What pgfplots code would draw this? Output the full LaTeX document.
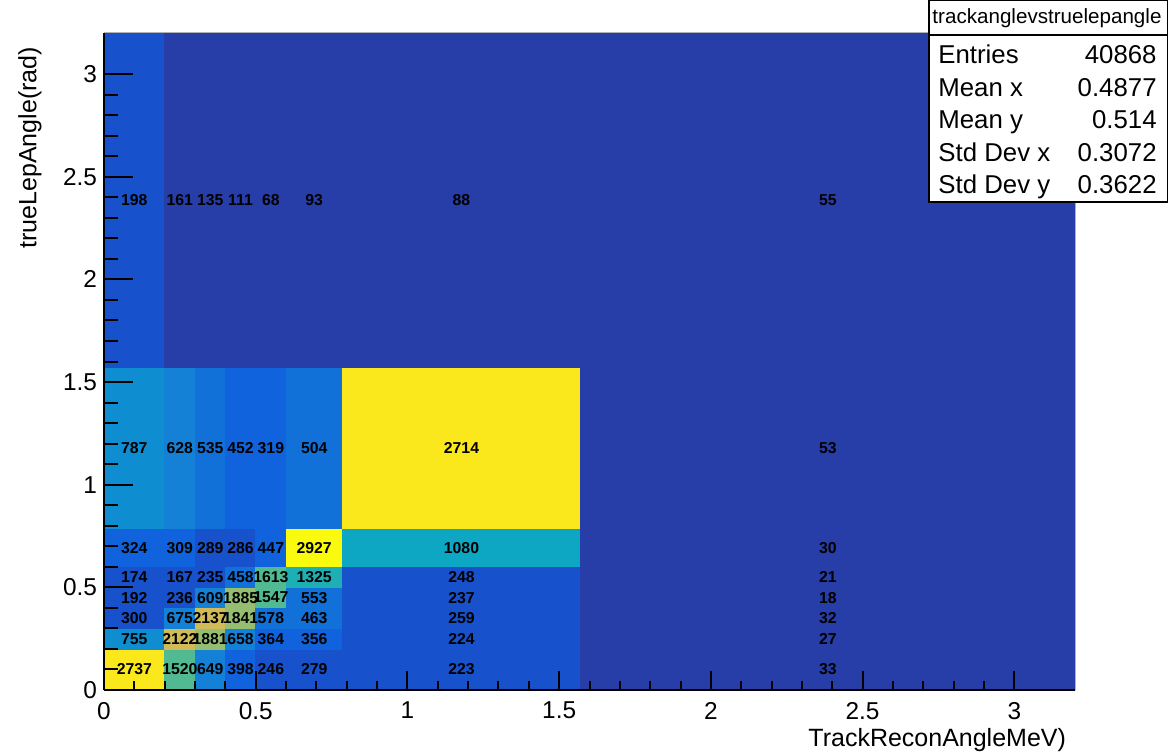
\documentclass[border=0pt]{standalone}
\usepackage{fontspec}
\setmainfont{Liberation Sans}
\usepackage{pgfplots}
\pgfplotsset{compat=1.18}
\pgfplotsset{
  colormap={kbird}{rgb=(0.2082,0.1664,0.5293) rgb=(0.0592,0.3599,0.8684) rgb=(0.0780,0.5041,0.8385)
    rgb=(0.0232,0.6419,0.7914) rgb=(0.1802,0.7178,0.6425) rgb=(0.5301,0.7492,0.4662)
    rgb=(0.8186,0.7328,0.3499) rgb=(0.9956,0.7862,0.1968) rgb=(0.9764,0.9832,0.0539)},
}
% bin contents at lower-left bin edges (last row/column only close the grid)
\pgfplotstableread{
x y c
0 0 2737
0.2 0 1520
0.3 0 649
0.4 0 398
0.5 0 246
0.6 0 279
0.7854 0 223
1.5708 0 33
3.2 0 33
0 0.2 755
0.2 0.2 2122
0.3 0.2 1881
0.4 0.2 658
0.5 0.2 364
0.6 0.2 356
0.7854 0.2 224
1.5708 0.2 27
3.2 0.2 27
0 0.3 300
0.2 0.3 675
0.3 0.3 2137
0.4 0.3 1841
0.5 0.3 578
0.6 0.3 463
0.7854 0.3 259
1.5708 0.3 32
3.2 0.3 32
0 0.4 192
0.2 0.4 236
0.3 0.4 609
0.4 0.4 1885
0.5 0.4 1547
0.6 0.4 553
0.7854 0.4 237
1.5708 0.4 18
3.2 0.4 18
0 0.5 174
0.2 0.5 167
0.3 0.5 235
0.4 0.5 458
0.5 0.5 1613
0.6 0.5 1325
0.7854 0.5 248
1.5708 0.5 21
3.2 0.5 21
0 0.6 324
0.2 0.6 309
0.3 0.6 289
0.4 0.6 286
0.5 0.6 447
0.6 0.6 2927
0.7854 0.6 1080
1.5708 0.6 30
3.2 0.6 30
0 0.7854 787
0.2 0.7854 628
0.3 0.7854 535
0.4 0.7854 452
0.5 0.7854 319
0.6 0.7854 504
0.7854 0.7854 2714
1.5708 0.7854 53
3.2 0.7854 53
0 1.5708 198
0.2 1.5708 161
0.3 1.5708 135
0.4 1.5708 111
0.5 1.5708 68
0.6 1.5708 93
0.7854 1.5708 88
1.5708 1.5708 55
3.2 1.5708 55
0 3.2 198
0.2 3.2 161
0.3 3.2 135
0.4 3.2 111
0.5 3.2 68
0.6 3.2 93
0.7854 3.2 88
1.5708 3.2 55
3.2 3.2 55
}\bins
% bin centres and their contents
\pgfplotstableread{
x y n
0.1 0.1 2737
0.25 0.1 1520
0.35 0.1 649
0.45 0.1 398
0.55 0.1 246
0.6927 0.1 279
1.1781 0.1 223
2.3854 0.1 33
0.1 0.25 755
0.25 0.25 2122
0.35 0.25 1881
0.45 0.25 658
0.55 0.25 364
0.6927 0.25 356
1.1781 0.25 224
2.3854 0.25 27
0.1 0.35 300
0.25 0.35 675
0.35 0.35 2137
0.45 0.35 1841
0.55 0.35 578
0.6927 0.35 463
1.1781 0.35 259
2.3854 0.35 32
0.1 0.45 192
0.25 0.45 236
0.35 0.45 609
0.45 0.45 1885
0.55 0.45 1547
0.6927 0.45 553
1.1781 0.45 237
2.3854 0.45 18
0.1 0.55 174
0.25 0.55 167
0.35 0.55 235
0.45 0.55 458
0.55 0.55 1613
0.6927 0.55 1325
1.1781 0.55 248
2.3854 0.55 21
0.1 0.6927 324
0.25 0.6927 309
0.35 0.6927 289
0.45 0.6927 286
0.55 0.6927 447
0.6927 0.6927 2927
1.1781 0.6927 1080
2.3854 0.6927 30
0.1 1.1781 787
0.25 1.1781 628
0.35 1.1781 535
0.45 1.1781 452
0.55 1.1781 319
0.6927 1.1781 504
1.1781 1.1781 2714
2.3854 1.1781 53
0.1 2.3854 198
0.25 2.3854 161
0.35 2.3854 135
0.45 2.3854 111
0.55 2.3854 68
0.6927 2.3854 93
1.1781 2.3854 88
2.3854 2.3854 55
}\centres
\begin{document}
\begin{tikzpicture}
\begin{axis}[
  at={(0pt,0pt)}, anchor=south west,
  scale only axis, width=485.5pt, height=328.5pt,
  xmin=0, xmax=3.2, ymin=0, ymax=3.2,
  axis x line*=bottom, axis y line*=left,
  axis line style={line width=1pt,-},
  colormap name=kbird,
  point meta min=0, point meta max=254,
  tick align=inside,
  xtick=\empty,
  ytick={0,0.5,...,3},
  minor y tick num=4,
  major tick length=14.5pt, minor tick length=7pt,
  tick style={black, line width=1pt},
  /pgf/number format/assume math mode=true,
  ticklabel style={font=\fontsize{12.2}{14}\selectfont},
  axis on top,
]
\addplot[surf, shader=flat corner, mesh/cols=9,
  point meta={min(254,floor((floor(0.01+(\thisrow{c}-18)*20/2909)+0.99)*12.75))}]
  table[x=x,y=y] {\bins};
\addplot[draw=none, mark=none, nodes near coords, point meta=explicit symbolic,
  nodes near coords style={font=\bfseries\fontsize{7.9}{9}\selectfont, anchor=center, text=black, inner sep=0pt}]
  table[x=x,y=y,meta=n] {\centres};
\end{axis}
\begin{axis}[
  at={(0pt,0pt)}, anchor=south west,
  scale only axis, width=485.5pt, height=328.5pt,
  xmin=0, xmax=3.2, ymin=0, ymax=3.2,
  axis x line*=bottom, axis y line=none,
  axis line style={line width=1pt,-},
  tick align=inside,
  xtick={0,0.5,...,3}, ytick=\empty,
  minor x tick num=4,
  major tick length=9.5pt, minor tick length=4.5pt,
  tick style={black, line width=1pt},
  /pgf/number format/assume math mode=true,
  ticklabel style={font=\fontsize{12.2}{14}\selectfont},
  xticklabel style={yshift=-2.5pt},
]
\end{axis}
\draw[gray!60, line width=0.5pt] (0pt,328.5pt) -- (485.5pt,328.5pt) -- (485.5pt,0pt);
\node[anchor=base east, font=\fontsize{12.5}{15}\selectfont] at (484.5pt,-28pt) {TrackReconAngleMeV)};
\node[rotate=90, anchor=east, font=\fontsize{12.5}{15}\selectfont] at (-37pt,325pt) {trueLepAngle(rad)};
% statistics box
\draw[black, line width=0.6pt, fill=white] (412.5pt,244pt) rectangle (532pt,344.7pt);
\draw[black, line width=0.6pt] (412.5pt,327.5pt) -- (532pt,327.5pt);
\node[anchor=base, font=\fontsize{10.3}{12}\selectfont, inner sep=0pt] at (471.5pt,333pt) {trackanglevstruelepangle};
\begin{scope}[every node/.style={font=\fontsize{12.9}{15}\selectfont, inner sep=0pt}]
\node[anchor=base west] at (417pt,313pt) {Entries};
\node[anchor=base east] at (526.5pt,313pt) {40868};
\node[anchor=base west] at (417pt,296.75pt) {Mean x};
\node[anchor=base east] at (526.5pt,296.75pt) {0.4877};
\node[anchor=base west] at (417pt,280.5pt) {Mean y};
\node[anchor=base east] at (526.5pt,280.5pt) {0.514};
\node[anchor=base west] at (417pt,264.25pt) {Std Dev x};
\node[anchor=base east] at (526.5pt,264.25pt) {0.3072};
\node[anchor=base west] at (417pt,248pt) {Std Dev y};
\node[anchor=base east] at (526.5pt,248pt) {0.3622};
\end{scope}
\pgfresetboundingbox
\path[use as bounding box] (-52pt,-30.5pt) rectangle (532pt,345pt);
\end{tikzpicture}
\end{document}
